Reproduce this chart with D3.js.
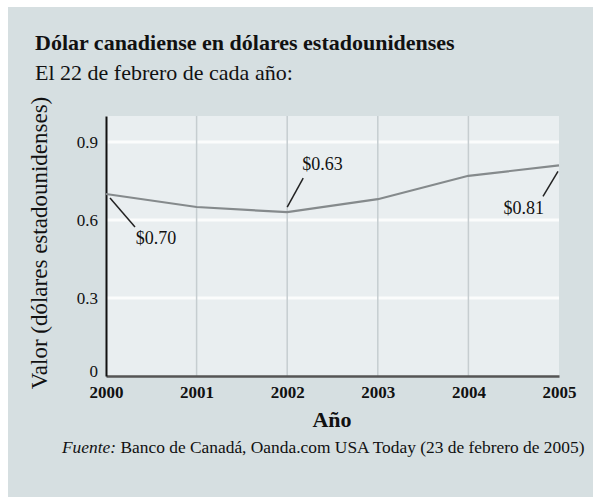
<!DOCTYPE html>
<html>
<head>
<meta charset="utf-8">
<script src="https://cdn.jsdelivr.net/npm/d3@7"></script>
<style>
  body { margin: 0; background: #fff; }
  text { font-family: "Liberation Serif", "DejaVu Serif", serif; fill: #111; }
</style>
</head>
<body>
<div id="plot"></div>
<script>
let svgWidth = 593;
let svgHeight = 497;

// data
let years = [2000, 2001, 2002, 2003, 2004, 2005];
let values = [0.70, 0.65, 0.63, 0.68, 0.77, 0.81];
let yTicks = [0, 0.3, 0.6, 0.9];
let callouts = [
    { year: 2000, value: 0.70, label: '$0.70' },
    { year: 2002, value: 0.63, label: '$0.63' },
    { year: 2005, value: 0.81, label: '$0.81' }
];

let margin = { top: 116, right: 34, bottom: 121, left: 106 };
let chartWidth = svgWidth - margin.left - margin.right;
let chartHeight = svgHeight - margin.top - margin.bottom;

let $svg = d3.select('#plot')
    .append('svg')
    .attr('width', svgWidth)
    .attr('height', svgHeight);

// panel background
$svg.append('rect')
    .attr('x', 8).attr('y', 7)
    .attr('width', svgWidth - 8).attr('height', svgHeight - 7)
    .attr('fill', '#d6dfe1');

// titles
$svg.append('text')
    .attr('x', 35).attr('y', 50)
    .attr('font-size', 22).attr('font-weight', 'bold')
    .text('Dólar canadiense en dólares estadounidenses');

$svg.append('text')
    .attr('x', 35).attr('y', 80)
    .attr('font-size', 22)
    .text('El 22 de febrero de cada año:');

let $chartGroup = $svg.append('g')
    .attr('transform', `translate(${margin.left}, ${margin.top})`);

let xScale = d3.scaleLinear()
    .domain([2000, 2005])
    .range([0, chartWidth]);

let yScale = d3.scaleLinear()
    .domain([0, 1])
    .range([chartHeight, 0]);

// plot area
$chartGroup.append('rect')
    .attr('width', chartWidth)
    .attr('height', chartHeight)
    .attr('fill', '#e9eef0');

// horizontal white grid
$chartGroup.selectAll('.hgrid')
    .data(yTicks.filter(d => d > 0))
    .enter()
    .append('line')
    .attr('class', 'hgrid')
    .attr('x1', 0).attr('x2', chartWidth)
    .attr('y1', d => yScale(d)).attr('y2', d => yScale(d))
    .attr('stroke', '#fbfcfc')
    .attr('stroke-width', 3);

// vertical grid
$chartGroup.selectAll('.vgrid')
    .data(years.slice(1, -1))
    .enter()
    .append('line')
    .attr('class', 'vgrid')
    .attr('x1', d => xScale(d)).attr('x2', d => xScale(d))
    .attr('y1', 0).attr('y2', chartHeight)
    .attr('stroke', '#c6cdd0')
    .attr('stroke-width', 1.5);

// axes
let bottomAxis = d3.axisBottom(xScale)
    .tickValues(years)
    .tickFormat(d3.format('d'))
    .tickSize(0)
    .tickPadding(10);

let leftAxis = d3.axisLeft(yScale)
    .tickValues(yTicks)
    .tickFormat(d => d === 0 ? '0' : d3.format('.1f')(d))
    .tickSize(0)
    .tickPadding(8);

let $xAxis = $chartGroup.append('g')
    .attr('transform', `translate(0, ${chartHeight})`)
    .call(bottomAxis);
$xAxis.select('.domain').attr('stroke', '#555').attr('stroke-width', 2.5);
$xAxis.selectAll('text')
    .attr('font-size', 17)
    .attr('font-weight', 'bold')
    .attr('fill', '#1a1a1a')
    .attr('font-family', '"Liberation Serif", serif');

let $yAxis = $chartGroup.append('g').call(leftAxis);
$yAxis.select('.domain').attr('stroke', '#111').attr('stroke-width', 2);
$yAxis.selectAll('text')
    .attr('font-size', 17)
    .attr('fill', '#1a1a1a')
    .attr('font-family', '"Liberation Serif", serif')
    .attr('dy', d => d === 0 ? '0em' : '0.32em');

// line
let line = d3.line()
    .x((d, i) => xScale(years[i]))
    .y(d => yScale(d));

$chartGroup.append('path')
    .datum(values)
    .attr('d', line)
    .attr('fill', 'none')
    .attr('stroke', '#858a8c')
    .attr('stroke-width', 2.2);

// callouts: leader start/end and label offsets relative to the point
let calloutOffsets = {
    2000: { sx: 4, sy: 4, lx: 29, ly: 33, tx: 50, ty: 50, anchor: 'middle' },
    2002: { sx: 0, sy: -5, lx: 16, ly: -34, tx: 15, ty: -42, anchor: 'start' },
    2005: { sx: -1, sy: 6, lx: -16, ly: 31, tx: -15, ty: 49, anchor: 'end' }
};

callouts.forEach(c => {
    let px = xScale(c.year);
    let py = yScale(c.value);
    let o = calloutOffsets[c.year];
    $chartGroup.append('line')
        .attr('x1', px + o.sx).attr('y1', py + o.sy)
        .attr('x2', px + o.lx).attr('y2', py + o.ly)
        .attr('stroke', '#222')
        .attr('stroke-width', 1.5);
    $chartGroup.append('text')
        .attr('x', px + o.tx).attr('y', py + o.ty)
        .attr('text-anchor', o.anchor)
        .attr('font-size', 18)
        .text(c.label);
});

// axis titles
$svg.append('text')
    .attr('transform', `translate(47, 243) rotate(-90)`)
    .attr('text-anchor', 'middle')
    .attr('font-size', 23)
    .text('Valor (dólares estadounidenses)');

$svg.append('text')
    .attr('x', 332).attr('y', 427)
    .attr('text-anchor', 'middle')
    .attr('font-size', 22)
    .attr('font-weight', 'bold')
    .text('Año');

// source
let $source = $svg.append('text')
    .attr('x', 62).attr('y', 453)
    .attr('font-size', 17.4);
$source.append('tspan').attr('font-style', 'italic').text('Fuente:');
$source.append('tspan').text(' Banco de Canadá, Oanda.com USA Today (23 de febrero de 2005)');
</script>
</body>
</html>
